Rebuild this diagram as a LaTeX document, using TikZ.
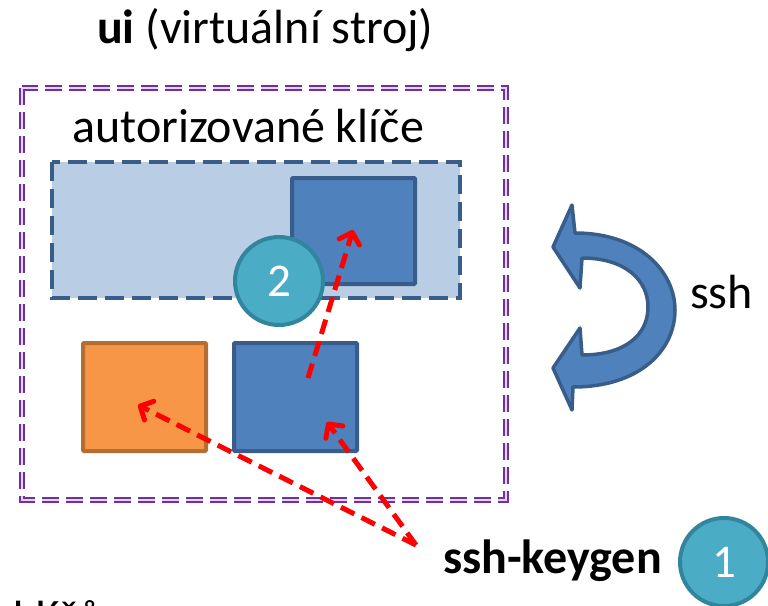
\documentclass[tikz,border=0pt]{standalone}
\usepackage{fontspec}
\setmainfont{Carlito}
\usetikzlibrary{arrows.meta}
\definecolor{vmpurple}{HTML}{7030A0}
\definecolor{vmlilac}{HTML}{E4D4F0}
\definecolor{authfill}{HTML}{B9CDE5}
\definecolor{keyblue}{HTML}{4F81BD}
\definecolor{keyline}{HTML}{385D8A}
\definecolor{keyorange}{HTML}{F79646}
\definecolor{orangeline}{HTML}{B66D31}
\definecolor{stepfill}{HTML}{4BACC6}
\definecolor{stepline}{HTML}{31859C}

\tikzset{
	sshpic/.style={
			x=1pt, y=-1pt,
			every node/.style={font=\fontsize{48}{57}\selectfont, inner sep=0pt},
			vmframe/.style={draw=vmpurple, line width=2.7pt, double=vmlilac, double distance=1.2pt, dash pattern=on 17pt off 7pt},
			authbox/.style={draw=keyline, fill=authfill, line width=4.5pt, dash pattern=on 19pt off 8pt},
			keybox/.style={draw=keyline, fill=keyblue, line width=4pt, rounded corners=1pt, minimum width=123pt, minimum height=106pt},
			privbox/.style={keybox, draw=orangeline, fill=keyorange},
			stepnum/.style={circle, draw=stepline, fill=stepfill, line width=4pt, minimum size=88pt, text=white, font=\fontsize{47}{56}\selectfont},
			keyarrow/.style={draw=red, line width=5pt, dash pattern=on 15pt off 8pt, -{Straight Barb[length=10pt, width=21pt, round]}},
			turnarrow/.style={draw=keyline, fill=keyblue, line width=3.5pt, line join=round},
		}
}

\begin{document}
\begin{tikzpicture}[sshpic]
	\useasboundingbox (0,0) rectangle (768,605);
	\clip (0,0) rectangle (768,605);
	\node[anchor=base west] (vmtitle) at (97,43) {\textbf{ui} (virtuální stroj)};
	\draw[vmframe] (22,88) rectangle (506,500);
	\node[anchor=base west] (authtitle) at (72,142) {autorizované klíče};
	\draw[authbox] (52,162) rectangle (460,298);
	\node[keybox] (pubcopy) at (353.5,231) {};
	\node[privbox, minimum height=108pt] (priv) at (144.5,397) {};
	\node[keybox, minimum height=108pt] (pub) at (295.5,397) {};
	\node[stepnum] (two) at (279,281) {2};
	\coordinate (pubtail) at (308,378);
	\coordinate (copytip) at (353,230);
	\coordinate (privtip) at (138,405);
	\coordinate (pubtip) at (327,422);
	\coordinate (gen) at (416,545);
	\draw[keyarrow] (pubtail) -- (copytip);
	\draw[keyarrow] (gen) -- (privtip);
	\draw[keyarrow] (gen) -- (pubtip);
	\node[anchor=base west] (keygen) at (443,573) {\textbf{ssh-keygen}};
	\node[stepnum] (one) at (724,562) {1};
	\draw[turnarrow] (575,233) .. controls (640,233) and (675,272) .. (675,310)
		.. controls (675,350) and (640,387) .. (573,387)
		-- (572,410) -- (553,368) -- (580,328) -- (582,355)
		.. controls (625,355) and (648,335) .. (648,307)
		.. controls (648,280) and (625,258) .. (582,258)
		-- (580,288) -- (553,247) -- (572,205) -- cycle;
	\node[anchor=base west] (sshlabel) at (690,308) {ssh};
	\node[anchor=base west] (storelabel) at (13,634) {klíčů};
\end{tikzpicture}
\end{document}
